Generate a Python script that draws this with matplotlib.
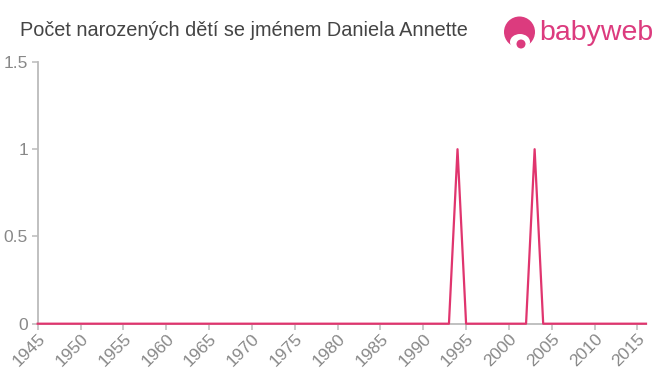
import matplotlib.pyplot as plt
from matplotlib.patches import Circle, Ellipse

plt.rcParams['font.family'] = ['Liberation Sans', 'DejaVu Sans']

title = 'Počet narozených dětí se jménem Daniela Annette'
years = list(range(1945, 2017))
births = [0] * len(years)
births[years.index(1994)] = 1
births[years.index(2003)] = 1

xticks = list(range(1945, 2016, 5))
yticks = [0, 0.5, 1, 1.5]
ytick_labels = ['0', '0.5', '1', '1.5']

line_color = '#e0356e'
axis_color = '#bbbbbb'
text_color = '#888888'
logo_color = '#dc3b7e'

fig = plt.figure(figsize=(6.6, 3.75), dpi=100)
ax = fig.add_axes([0.0571, 0.1368, 0.9217, 0.698])

ax.plot(years, births, color=line_color, linewidth=1.6, zorder=3, clip_on=False)

ax.set_xlim(1945, 2016)
ax.set_ylim(0, 1.5)
ax.set_xticks(xticks)
ax.set_xticklabels([str(x) for x in xticks], rotation=45, ha='right', va='top',
                   rotation_mode='anchor', fontsize=12.5, color=text_color)
ax.set_yticks(yticks)
ax.set_yticklabels(ytick_labels, fontsize=12.5, color=text_color)
ax.tick_params(axis='both', length=4, width=1.1, color=axis_color, pad=3)
ax.tick_params(axis='x', pad=1.5)

for s in ['top', 'right']:
    ax.spines[s].set_visible(False)
for s in ['left', 'bottom']:
    ax.spines[s].set_color(axis_color)
    ax.spines[s].set_linewidth(1.3)

fig.text(20 / 660, 1 - 31 / 375, title, fontsize=14.3, color='#444444',
         va='center', ha='left')

# babyweb logo, drawn in pixel coordinates
lg = fig.add_axes([0, 0, 1, 1], zorder=5)
lg.set_xlim(0, 660)
lg.set_ylim(375, 0)
lg.axis('off')
lg.add_patch(Circle((519.5, 32), 15.5, facecolor=logo_color, edgecolor='none'))
lg.add_patch(Ellipse((520, 42), 20, 16, facecolor='white', edgecolor='none'))
lg.add_patch(Ellipse((520, 31), 8, 4, facecolor=logo_color, edgecolor='none'))
lg.add_patch(Circle((521, 44), 4.5, facecolor=logo_color, edgecolor='none'))
lg.text(539, 33, 'babyweb', fontsize=20.5, color=logo_color, va='center', ha='left')

fig.savefig('out.png', dpi=100)
